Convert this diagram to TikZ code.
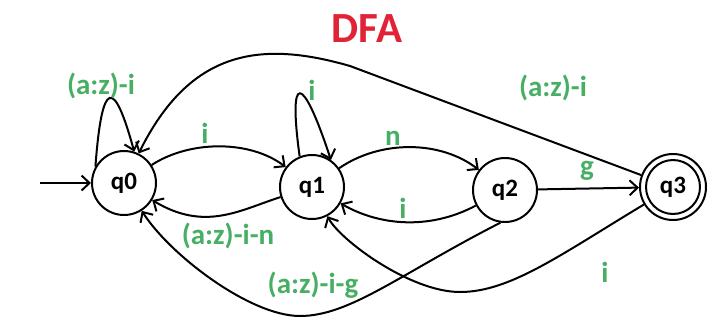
\documentclass[tikz,border=0pt]{standalone}
\usepackage{fontspec}
\setmainfont{Carlito}
\usetikzlibrary{arrows.meta}
\definecolor{lblgreen}{RGB}{70,175,100}
\definecolor{titlered}{RGB}{225,35,55}
\begin{document}
\begin{tikzpicture}[x=1pt,y=-1pt,
  state/.style={circle,draw,line width=2pt,minimum size=64pt,inner sep=0pt,font=\fontsize{25}{27}\bfseries\selectfont},
  lbl/.style={text=lblgreen,font=\fontsize{29}{31}\bfseries\selectfont,inner sep=0pt},
  conn/.style={line width=2pt,-{Straight Barb[length=8pt,width=15pt,line width=2pt]}}]
\useasboundingbox (0,0) rectangle (714,327);
\node[text=titlered,font=\fontsize{43}{45}\bfseries\selectfont,inner sep=0pt] (title) at (367,29) {DFA};
\node[state] (q0) at (124,183) {q0};
\node[state] (q1) at (312,187) {q1};
\node[state] (q2) at (505,190) {q2};
\node[state,minimum size=66pt] (q3) at (673,187) {q3};
\draw[line width=2pt] (q3.center) circle[radius=27pt];
\coordinate (s) at (40,183);
\draw[conn] (s) -- (q0);
% self loops
\draw[conn] (q0.150) .. controls (102,78) and (114,78) .. (q0.72);
\draw[conn] (q1.112) .. controls (288,72) and (302,72) .. (q1.55);
% q0 <-> q1
\draw[conn] (q0) .. controls (190,140) and (250,140) .. (q1);
\draw[conn] (q1) .. controls (240,210) and (205,232) .. (q0);
% q1 <-> q2
\draw[conn] (q1) .. controls (380,140) and (440,140) .. (q2);
\draw[conn] (q2) .. controls (430,230) and (380,226) .. (q1);
% q2 -> q3
\draw[conn] (q2) -- (q3);
% q3 -> q0
\draw[conn] (q3) -- (350,66) .. controls (260,40) and (190,50) .. (q0);
% q2 -> q0
\draw[conn] (q2.262) .. controls (400,274) and (350,316) .. (300,316) .. controls (250,316) and (170,255) .. (q0);
% q3 -> q1
\draw[conn] (q3) .. controls (560,255) and (510,292) .. (460,292) .. controls (410,292) and (340,240) .. (q1);
% labels
\node[lbl] (l1) at (101,86) {(a:z)-i};
\node[lbl] (l2) at (205,133) {i};
\node[lbl] (l3) at (312,90) {i};
\node[lbl] (l4) at (553,88) {(a:z)-i};
\node[lbl] (l5) at (393,138) {n};
\node[lbl] (l6) at (587,171) {g};
\node[lbl] (l7) at (403,208) {i};
\node[lbl] (l8) at (228,236) {(a:z)-i-n};
\node[lbl] (l9) at (313,285) {(a:z)-i-g};
\node[lbl] (l10) at (605,272) {i};
\end{tikzpicture}
\end{document}
